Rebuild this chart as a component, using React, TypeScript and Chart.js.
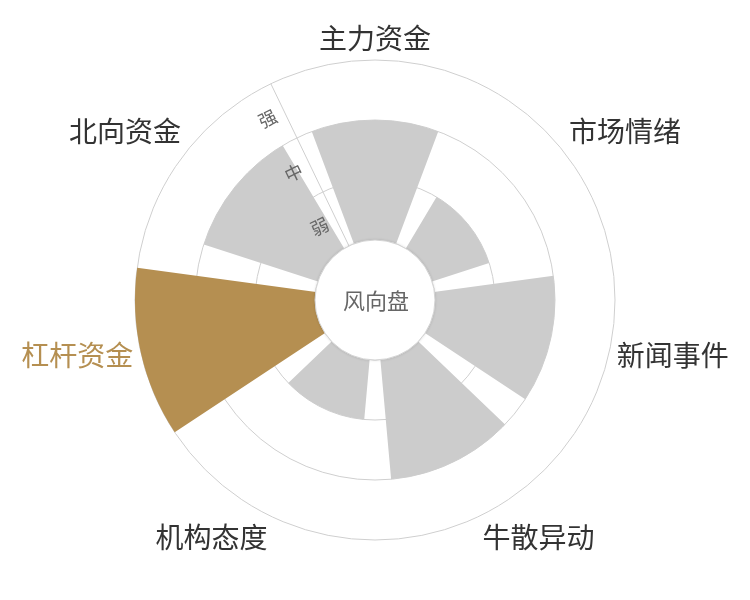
import React, { useEffect, useRef } from 'react';
import { Chart, registerables } from 'chart.js';

Chart.register(...registerables);

// ---- data ----
const CATEGORIES = ['主力资金', '市场情绪', '新闻事件', '牛散异动', '机构态度', '杠杆资金', '北向资金'];
const VALUES = [3, 2, 3, 3, 2, 4, 3];
const LEVEL_VALUES = [1.5, 2.5, 3.5];
const LEVEL_LABELS = ['弱', '中', '强'];
const GRID_VALUES = [0, 1, 2, 3, 4];
const HIGHLIGHT = '杠杆资金';
const CENTER_TEXT = '风向盘';

// ---- styles ----
const GREY = '#cccccc';
const GOLD = '#b58f51';
const LINE = '#cfcfcf';
const FONT = '"Noto Sans CJK SC", "Noto Sans", sans-serif';
const SLOT = 360 / CATEGORIES.length;
const BAR_SHARE = 0.8;
const TICK_SIZE = 18;

const labels21 = CATEGORIES.flatMap((c) => ['', c, '']);
const data21 = VALUES.flatMap((v) => [0, v, 0]);
const colors21 = labels21.map((l, i) => (i % 3 !== 1 ? 'rgba(0,0,0,0)' : l === HIGHLIGHT ? GOLD : GREY));

const overlayPlugin = {
  id: 'overlay',
  afterDatasetsDraw(chart: any) {
    const scale = chart.scales.r;
    const ctx = chart.ctx;
    const cx = scale.xCenter;
    const cy = scale.yCenter;
    const r0 = scale.getDistanceFromCenterForValue(GRID_VALUES[1]);
    ctx.save();
    ctx.beginPath();
    ctx.arc(cx, cy, r0, 0, Math.PI * 2);
    ctx.fillStyle = '#ffffff';
    ctx.shadowColor = 'rgba(0,0,0,0.18)';
    ctx.shadowBlur = 3;
    ctx.fill();
    ctx.shadowColor = 'rgba(0,0,0,0)';
    ctx.shadowBlur = 0;
    ctx.strokeStyle = '#d4d4d4';
    ctx.lineWidth = 1;
    ctx.stroke();
    ctx.fillStyle = '#666666';
    ctx.font = `22px ${FONT}`;
    ctx.textAlign = 'center';
    ctx.textBaseline = 'middle';
    ctx.fillText(CENTER_TEXT, cx + 1, cy + 1);
    ctx.restore();
  },
  afterDraw(chart: any) {
    const scale = chart.scales.r;
    const ctx = chart.ctx;
    const meta = chart.getDatasetMeta(0);
    const R = scale.drawingArea + 8;
    ctx.save();
    ctx.font = `28px ${FONT}`;
    CATEGORIES.forEach((c, k) => {
      const arc = meta.data[3 * k + 1] as any;
      const mid = (arc.startAngle + arc.endAngle) / 2;
      const dx = Math.cos(mid);
      const dy = Math.sin(mid);
      const x = scale.xCenter + dx * R;
      const y = scale.yCenter + dy * R;
      ctx.textAlign = Math.abs(dx) < 0.3 ? 'center' : dx > 0 ? 'left' : 'right';
      ctx.textBaseline = Math.abs(dy) < 0.3 ? 'middle' : dy > 0 ? 'top' : 'bottom';
      ctx.fillStyle = c === HIGHLIGHT ? GOLD : '#333333';
      ctx.fillText(c, x, y);
    });
    ctx.restore();
  },
};

export default function App() {
  const ref = useRef<HTMLCanvasElement>(null);
  useEffect(() => {
    const chart = new Chart(ref.current as HTMLCanvasElement, {
      type: 'polarArea',
      data: {
        labels: labels21,
        datasets: [
          {
            data: data21,
            backgroundColor: colors21,
            borderWidth: 0,
            angle: (ctx: any) => (ctx.dataIndex % 3 === 1 ? SLOT * BAR_SHARE : (SLOT * (1 - BAR_SHARE)) / 2),
          } as any,
        ],
      },
      options: {
        responsive: false,
        animation: false,
        events: [],
        layout: { padding: { left: 126, right: 126, top: 51, bottom: 51 } },
        plugins: {
          legend: { display: false },
          tooltip: { enabled: false },
        },
        scales: {
          r: {
            type: 'radialLinear',
            min: GRID_VALUES[0],
            max: GRID_VALUES[GRID_VALUES.length - 1],
            startAngle: -SLOT / 2,
            afterBuildTicks: (scale: any) => {
              scale.ticks = [...GRID_VALUES, ...LEVEL_VALUES]
                .sort((a, b) => a - b)
                .map((v) => ({ value: v }));
            },
            grid: {
              circular: true,
              color: LINE,
              lineWidth: (ctx: any) => (GRID_VALUES.includes(ctx.tick.value) ? 1 : 0),
            },
            angleLines: {
              display: true,
              color: LINE,
              lineWidth: (ctx: any) => (ctx.index === 0 ? 1 : 0),
            },
            pointLabels: { display: false },
            ticks: {
              display: true,
              z: 1,
              showLabelBackdrop: false,
              backdropPadding: 0,
              color: '#666666',
              font: { size: TICK_SIZE, family: FONT },
              callback: (v: any) => {
                const i = LEVEL_VALUES.indexOf(Number(v));
                return i >= 0 ? LEVEL_LABELS[i] + '\u3000\u3000' : '';
              },
            },
          },
        },
      } as any,
      plugins: [overlayPlugin],
    });
    return () => chart.destroy();
  }, []);
  return (
    <div style={{ position: 'fixed', left: 0, top: 0, width: 750, height: 600, background: '#ffffff' }}>
      <canvas ref={ref} width={750} height={600} style={{ display: 'block', width: 750, height: 600 }} />
    </div>
  );
}
